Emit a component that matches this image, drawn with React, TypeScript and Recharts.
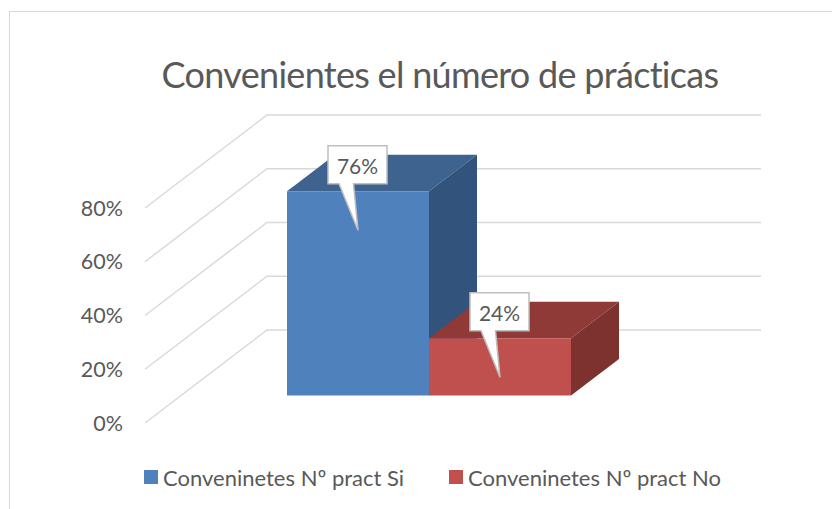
import React from "react";
import { BarChart, Bar, XAxis, YAxis, CartesianGrid, Legend, LabelList } from "recharts";

const categories = ["Convenientes"];
const seriesNames = ["Conveninetes Nº pract Si", "Conveninetes Nº pract No"];
const siValues = [0.76];
const noValues = [0.213];
const dataLabels = ["76%", "24%"];
const yTicks = [0, 0.2, 0.4, 0.6, 0.8];
const titleText = "Convenientes el número de prácticas";

const data = categories.map((name, i) => ({ name, si: siValues[i], no: noValues[i] }));

const FONT = "Lato, 'Open Sans', sans-serif";
const TEXT = "#595959";
const GRID = "#D9D9D9";
const WALL_DX = 122;
const WALL_DY = -93;
const BAR_DX = 37;
const BAR_DY = -27.5;
const DEPTH_DX = 48;
const DEPTH_DY = -36.5;

const Grid3D = (p: any) => (
  <polyline
    key={p.key ?? p.y1}
    points={`${p.x1},${p.y1} ${p.x1 + WALL_DX},${p.y1 + WALL_DY} ${p.x2 + WALL_DX},${p.y1 + WALL_DY}`}
    fill="none"
    stroke={GRID}
    strokeWidth={1.5}
  />
);

const box3D = (front: string, top: string, side: string) => (p: any) => {
  const x = p.x + BAR_DX;
  const y = p.y + BAR_DY;
  const w = p.width;
  const h = p.height;
  return (
    <g>
      <polygon points={`${x},${y} ${x + DEPTH_DX},${y + DEPTH_DY} ${x + w + DEPTH_DX},${y + DEPTH_DY} ${x + w},${y}`} fill={top} />
      <polygon points={`${x + w},${y} ${x + w + DEPTH_DX},${y + DEPTH_DY} ${x + w + DEPTH_DX},${y + h + DEPTH_DY} ${x + w},${y + h}`} fill={side} />
      <rect x={x} y={y} width={w} height={h} fill={front} />
    </g>
  );
};

const callout = (text: string) => (p: any) => {
  const left = p.x + BAR_DX + 41;
  const top = p.y + BAR_DY - 45.5;
  const bw = 59;
  const bh = 38;
  const tipX = p.x + BAR_DX + 71;
  const tipY = p.y + BAR_DY + 39;
  const d = `M${left},${top} H${left + bw} V${top + bh} H${left + 25.5} L${tipX},${tipY} L${left + 11},${top + bh} H${left} Z`;
  return (
    <g>
      <path d={d} fill="#FFFFFF" stroke="#BFBFBF" strokeWidth={1.5} />
      <text x={left + bw / 2} y={top + 28} textAnchor="middle" fontFamily={FONT} fontSize={21} fill={TEXT}>
        {text}
      </text>
    </g>
  );
};

const LegendBox = (p: any) => (
  <div style={{ position: "relative", height: 28, fontFamily: FONT, fontSize: 22, color: TEXT }}>
    {(p.payload ?? []).map((e: any, i: number) => (
      <div key={e.value} style={{ position: "absolute", left: i === 0 ? 0 : 305, top: 0, display: "flex", alignItems: "center", whiteSpace: "nowrap", height: 28 }}>
        <span style={{ display: "inline-block", width: 14, height: 14, background: e.color, marginRight: 5 }} />
        <span>{e.value}</span>
      </div>
    ))}
  </div>
);

export default function App() {
  return (
    <div style={{ position: "absolute", left: 0, top: 0, width: 832, height: 509, overflow: "hidden", background: "#fff" }}>
      <div style={{ position: "absolute", left: 9, top: 11, width: 900, height: 600, border: "1.5px solid #D9D9D9", boxSizing: "border-box" }} />
      <BarChart
        width={832}
        height={509}
        data={data}
        margin={{ top: 208, right: 193, bottom: 58, left: 0 }}
        barSize={142}
        barGap={0}
        style={{ position: "absolute", left: 0, top: 0 }}
      >
        <text x={440} y={87.5} textAnchor="middle" fontFamily={FONT} fontSize={36} letterSpacing={-0.7} fill={TEXT}>
          {titleText}
        </text>
        <CartesianGrid vertical={false} horizontal={Grid3D} />
        <XAxis dataKey="name" hide />
        <YAxis
          width={145}
          domain={[0, 0.8]}
          ticks={yTicks}
          tickFormatter={(v: number) => `${Math.round(v * 100)}%`}
          axisLine={false}
          tickLine={false}
          tickSize={0}
          tickMargin={22}
          tick={{ fontFamily: FONT, fontSize: 21.5, fill: TEXT }}
        />
        <Legend
          verticalAlign="bottom"
          itemSorter={null}
          content={<LegendBox />}
          wrapperStyle={{ position: "absolute", left: 144, top: 463, width: 640, bottom: "auto" }}
        />
        <Bar dataKey="si" name={seriesNames[0]} fill="#4F81BD" isAnimationActive={false} shape={box3D("#4F81BD", "#3E638F", "#32547C")}>
          <LabelList dataKey="si" content={callout(dataLabels[0])} />
        </Bar>
        <Bar dataKey="no" name={seriesNames[1]} fill="#C0504D" isAnimationActive={false} shape={box3D("#C0504D", "#903A38", "#7E3230")}>
          <LabelList dataKey="no" content={callout(dataLabels[1])} />
        </Bar>
      </BarChart>
    </div>
  );
}
